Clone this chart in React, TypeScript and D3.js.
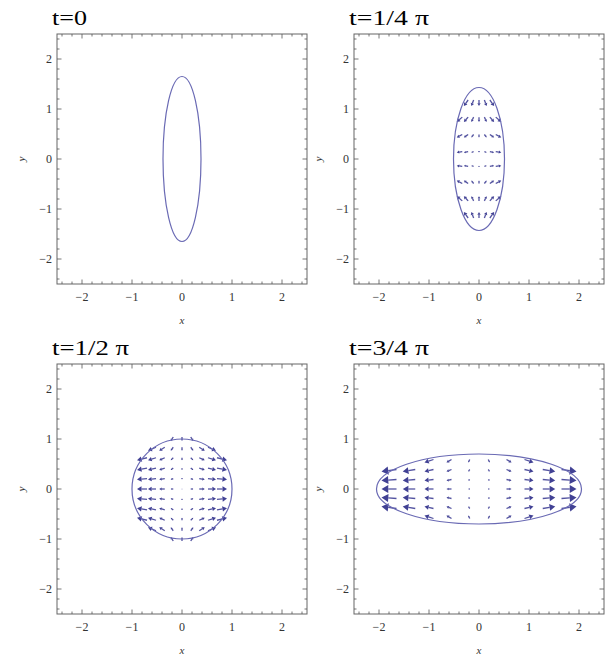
import React, { useEffect, useRef } from 'react';
import * as d3 from 'd3';

// panel titles and ellipse semi-axes (x, y)
const TITLES = ['t=0', 't=1/4 π', 't=1/2 π', 't=3/4 π'];
const SEMI_X = [0.38, 0.51, 1.0, 2.05];
const SEMI_Y = [1.65, 1.43, 1.0, 0.7];

// t=1/4 π : arrow grid and components (per column u, per row v)
const quarterX = [-0.39, -0.26, -0.13, 0, 0.13, 0.26, 0.39];
const quarterY = [1.12, 0.79, 0.46, 0.14, -0.14, -0.46, -0.79, -1.12];
const quarterU = [-0.11, -0.085, -0.045, 0, 0.045, 0.085, 0.11];
const quarterV = [-0.12, -0.095, -0.06, -0.015, 0.015, 0.06, 0.095, 0.12];

// t=1/2 π
const halfX = [-0.8, -0.6, -0.4, -0.2, 0, 0.2, 0.4, 0.6, 0.8];
const halfY = [1.0, 0.8, 0.6, 0.4, 0.2, 0, -0.2, -0.4, -0.6, -0.8, -1.0];
const halfU = [-0.2, -0.16, -0.11, -0.05, 0, 0.05, 0.11, 0.16, 0.2];
const halfV = [-0.08, -0.07, -0.05, -0.035, -0.018, 0, 0.018, 0.035, 0.05, 0.07, 0.08];

// t=3/4 π
const threeX = [-1.8, -1.4, -1.0, -0.6, -0.2, 0.2, 0.6, 1.0, 1.4, 1.8];
const threeY = [0.56, 0.37, 0.18, 0, -0.18, -0.37, -0.56];
const threeU = [-0.3, -0.25, -0.18, -0.1, -0.03, 0.03, 0.1, 0.18, 0.25, 0.3];
const threeV = [-0.06, -0.04, -0.02, 0, 0.02, 0.04, 0.06];

const fields = [
  null,
  { xs: quarterX, ys: quarterY, us: quarterU, vs: quarterV },
  { xs: halfX, ys: halfY, us: halfU, vs: halfV },
  { xs: threeX, ys: threeY, us: threeU, vs: threeV },
];

const PANELS = [
  { left: 57, top: 34, titleW: 35 },
  { left: 354, top: 34, titleW: 80 },
  { left: 57, top: 364, titleW: 77 },
  { left: 354, top: 364, titleW: 80 },
];
const SIZE = 250;
const SERIF = "'Liberation Serif', 'Times New Roman', Times, serif";

export default function App() {
  const ref = useRef<SVGSVGElement>(null);

  useEffect(() => {
    const svg = d3.select(ref.current);
    svg.selectAll('*').remove();

    PANELS.forEach((p, i) => {
      const g = svg.append('g').attr('transform', `translate(${p.left},${p.top})`);
      const x = d3.scaleLinear().domain([-2.5, 2.5]).range([0, SIZE]);
      const y = d3.scaleLinear().domain([-2.5, 2.5]).range([SIZE, 0]);

      // title
      g.append('text')
        .attr('x', -5)
        .attr('y', -9)
        .style('font-family', SERIF)
        .style('font-size', '21px')
        .attr('textLength', p.titleW)
        .attr('lengthAdjust', 'spacingAndGlyphs')
        .attr('fill', '#000')
        .text(TITLES[i]);

      // frame
      g.append('rect')
        .attr('width', SIZE)
        .attr('height', SIZE)
        .attr('fill', 'none')
        .attr('stroke', '#666')
        .attr('stroke-width', 1);

      const major = x.ticks(5);
      const minor = x.ticks(25).filter(t => Math.abs(t - Math.round(t)) > 1e-6);
      const tickG = g.append('g').attr('stroke', '#555').attr('stroke-width', 0.8);
      const addTicks = (vals: number[], len: number) => {
        vals.forEach(t => {
          tickG.append('line').attr('x1', x(t)).attr('x2', x(t)).attr('y1', SIZE).attr('y2', SIZE - len);
          tickG.append('line').attr('x1', x(t)).attr('x2', x(t)).attr('y1', 0).attr('y2', len);
          tickG.append('line').attr('y1', y(t)).attr('y2', y(t)).attr('x1', 0).attr('x2', len);
          tickG.append('line').attr('y1', y(t)).attr('y2', y(t)).attr('x1', SIZE).attr('x2', SIZE - len);
        });
      };
      addTicks(major, 4.5);
      addTicks(minor, 2.5);

      const fmt = d3.format('d');
      g.selectAll('.xt')
        .data(major)
        .enter()
        .append('text')
        .attr('x', d => x(d))
        .attr('y', SIZE + 17)
        .attr('text-anchor', 'middle')
        .style('font-family', SERIF)
        .style('font-size', '12px')
        .attr('fill', '#333')
        .text(d => fmt(d));
      g.selectAll('.yt')
        .data(major)
        .enter()
        .append('text')
        .attr('x', -5)
        .attr('y', d => y(d) + 4)
        .attr('text-anchor', 'end')
        .style('font-family', SERIF)
        .style('font-size', '12px')
        .attr('fill', '#333')
        .text(d => fmt(d));

      // axis labels
      g.append('text')
        .attr('x', SIZE / 2)
        .attr('y', SIZE + 40)
        .attr('text-anchor', 'middle')
        .style('font-family', SERIF)
        .style('font-style', 'italic')
        .style('font-size', '11px')
        .attr('fill', '#333')
        .text('x');
      g.append('text')
        .attr('transform', `translate(-32,${SIZE / 2}) rotate(-90)`)
        .attr('text-anchor', 'middle')
        .style('font-family', SERIF)
        .style('font-style', 'italic')
        .style('font-size', '11px')
        .attr('fill', '#333')
        .text('y');

      // arrows
      const f = fields[i];
      const a = SEMI_X[i];
      const b = SEMI_Y[i];
      if (f) {
        const ag = g.append('g');
        f.ys.forEach((yv, r) => {
          f.xs.forEach((xv, c) => {
            if ((xv / a) ** 2 + (yv / b) ** 2 > 1.06) return;
            const u = f.us[c];
            const v = f.vs[r];
            const x0 = x(xv - u / 2), y0 = y(yv - v / 2);
            const x1 = x(xv + u / 2), y1 = y(yv + v / 2);
            const dx = x1 - x0, dy = y1 - y0;
            const len = Math.hypot(dx, dy);
            if (len < 0.6) {
              ag.append('circle').attr('cx', x(xv)).attr('cy', y(yv)).attr('r', 0.5).attr('fill', '#9a9acc');
              return;
            }
            const ux = dx / len, uy = dy / len;
            const h = Math.max(len * 0.45, 1.2);
            const w = Math.max(len * 0.27, 1);
            const bx = x1 - ux * h, by = y1 - uy * h;
            ag.append('line')
              .attr('x1', x0).attr('y1', y0).attr('x2', bx).attr('y2', by)
              .attr('stroke', '#35358f')
              .attr('stroke-width', 1.3)
              .attr('stroke-opacity', 0.85);
            ag.append('path')
              .attr('d', `M${x1},${y1}L${bx - uy * w},${by + ux * w}L${bx + uy * w},${by - ux * w}Z`)
              .attr('fill', '#2c2c88')
              .attr('fill-opacity', 0.9);
          });
        });
      }

      // ellipse boundary
      g.append('ellipse')
        .attr('cx', x(0))
        .attr('cy', y(0))
        .attr('rx', x(a) - x(0))
        .attr('ry', y(0) - y(b))
        .attr('fill', 'none')
        .attr('stroke', '#6a6ab4')
        .attr('stroke-width', 1.2);
    });
  }, []);

  return (
    <svg
      ref={ref}
      width={609}
      height={656}
      style={{ position: 'absolute', left: 0, top: 0, background: '#fff' }}
    />
  );
}
